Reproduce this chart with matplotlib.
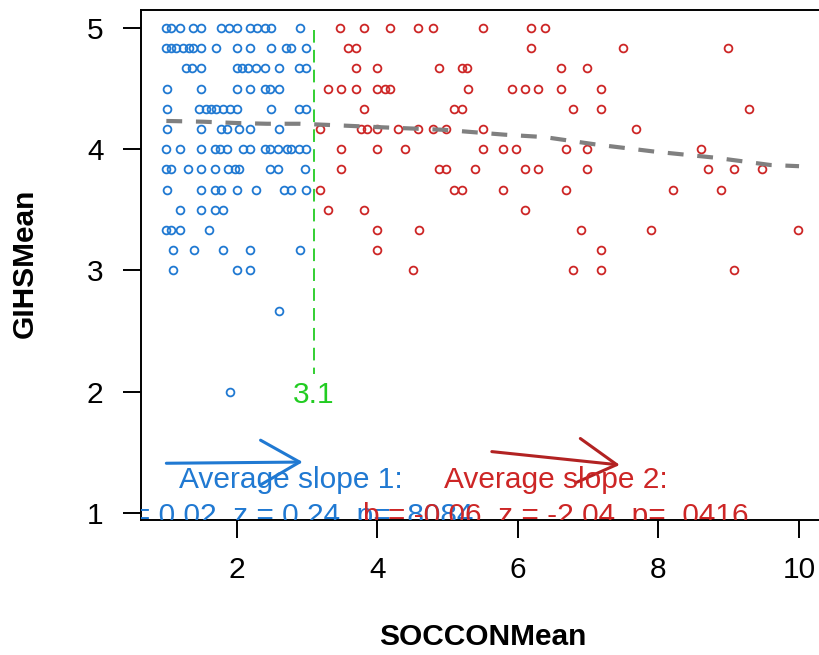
import matplotlib
matplotlib.use('Agg')
import matplotlib.pyplot as plt

plt.rcParams['font.family'] = ['Liberation Sans', 'DejaVu Sans']

# points below the cut (blue), read row by row
blue_x = [0.99, 1.06, 1.19, 1.38, 1.50, 1.78, 1.89, 2.00, 2.19, 2.29, 2.40, 2.49, 2.90,
          0.99, 1.06, 1.14, 1.24, 1.32, 1.38, 1.50, 1.71, 2.00, 2.19, 2.49, 2.70, 2.78, 2.99,
          1.28, 1.36, 1.50, 2.00, 2.07, 2.16, 2.28, 2.41, 2.60, 2.89, 2.99,
          1.01, 1.50, 2.00, 2.19, 2.40, 2.48, 2.60,
          1.01, 1.47, 1.57, 1.64, 1.71, 1.80, 1.90, 2.00, 2.49, 2.89, 2.99,
          1.01, 1.50, 1.78, 1.86, 2.04, 2.19, 2.60,
          0.99, 1.20, 1.50, 1.69, 1.76, 1.86, 2.09, 2.19, 2.40, 2.48, 2.59, 2.71, 2.78, 2.89, 2.99,
          0.99, 1.07, 1.31, 1.50, 1.69, 1.88, 1.97, 2.04, 2.47, 2.59, 2.97,
          1.01, 1.50, 1.69, 1.78, 2.00, 2.28, 2.68, 2.78, 2.99,
          1.20, 1.50, 1.69, 1.80,
          0.99, 1.07, 1.20, 1.61,
          1.09, 1.39, 1.80, 2.19, 2.90,
          1.09, 2.00, 2.19,
          2.60,
          1.90]
blue_y = [5.0] * 13 + [4.833] * 14 + [4.667] * 11 + [4.5] * 7 + [4.333] * 11 + \
         [4.167] * 7 + [4.0] * 15 + [3.833] * 11 + [3.667] * 9 + [3.5] * 4 + \
         [3.333] * 4 + [3.167] * 5 + [3.0] * 3 + [2.667] + [2.0]

# points above the cut (red)
red_x = [3.47, 3.81, 4.18, 4.58, 4.80, 5.50, 6.19, 6.39,
         3.58, 3.70, 6.19, 7.49, 8.99,
         3.70, 3.99, 4.88, 5.20, 5.27, 6.61, 6.99,
         3.30, 3.49, 3.70, 3.99, 4.11, 4.18, 5.29, 5.91, 6.10, 6.29, 6.61, 7.19,
         3.81, 5.09, 5.21, 6.79, 7.19, 9.29,
         3.19, 3.77, 3.85, 3.99, 4.30, 4.58, 4.80, 4.98, 5.50, 7.68,
         3.49, 3.99, 4.40, 5.50, 5.79, 5.98, 6.68, 6.99, 8.60,
         3.49, 4.88, 4.98, 5.39, 6.10, 6.29, 6.99, 8.71, 9.08, 9.48,
         3.19, 5.09, 5.21, 5.79, 6.68, 8.20, 8.89,
         3.30, 3.81, 6.10,
         3.99, 4.59, 6.90, 7.89, 9.99,
         3.99, 7.19,
         4.51, 6.79, 7.19, 9.08]
red_y = [5.0] * 8 + [4.833] * 5 + [4.667] * 7 + [4.5] * 12 + [4.333] * 6 + \
        [4.167] * 10 + [4.0] * 9 + [3.833] * 10 + [3.667] * 7 + [3.5] * 3 + \
        [3.333] * 5 + [3.167] * 2 + [3.0] * 4

# smoothed trend (grey dashed)
smooth_x = [1.0, 1.52, 2.0, 2.43, 2.9, 3.32, 4.1, 4.95, 5.81, 6.38, 7.1, 7.95, 8.81, 9.59, 10.0]
smooth_y = [4.233, 4.227, 4.216, 4.21, 4.21, 4.20, 4.18, 4.16, 4.12, 4.10, 4.04, 3.98, 3.93, 3.87, 3.86]

cut = 3.1
cut_top, cut_bottom = 4.98, 2.15

slope1_label = ['Average slope 1:', 'b = 0.02, z = 0.24, p= .8084']
slope2_label = ['Average slope 2:', 'b = -0.06, z = -2.04, p= .0416']
arrow1 = [(1.0, 1.41), (2.94, 1.42)]
arrow2 = [(5.63, 1.506), (7.45, 1.396)]

blue = '#2079D2'
red = '#CD2626'
green = '#22CC22'
fs = 21.5

fig = plt.figure(figsize=(8.2, 6.55), dpi=100)
ax = fig.add_axes([0.172, 0.2061, 0.8333, 0.7786])

ax.plot(blue_x, blue_y, 'o', ls='none', mfc='none', mec=blue, ms=5.6, mew=1.3)
ax.plot(red_x, red_y, 'o', ls='none', mfc='none', mec=red, ms=5.6, mew=1.3)
ax.plot(smooth_x, smooth_y, color='#808080', lw=3, dashes=(3.8, 3.3))

ax.plot([cut, cut], [cut_top, cut_bottom], color=green, lw=1.3, dashes=(7, 4))
ax.text(cut, 1.907, '3.1', color=green, fontsize=fs, ha='center', va='baseline')

# slope arrows + labels
ax.annotate('', xy=arrow1[1], xytext=arrow1[0],
            arrowprops=dict(arrowstyle='->,head_length=0.7,head_width=0.4', color=blue,
                            lw=2.2, mutation_scale=40, shrinkA=0, shrinkB=0))
ax.annotate('', xy=arrow2[1], xytext=arrow2[0],
            arrowprops=dict(arrowstyle='->,head_length=0.7,head_width=0.4', color='#B22222',
                            lw=2.2, mutation_scale=40, shrinkA=0, shrinkB=0))

ax.text(2.77, 1.21, slope1_label[0], color=blue, fontsize=fs, ha='center', va='baseline', clip_on=True)
ax.text(2.77, 0.905, slope1_label[1], color=blue, fontsize=fs, ha='center', va='baseline', clip_on=True)
ax.text(6.54, 1.21, slope2_label[0], color=red, fontsize=fs, ha='center', va='baseline', clip_on=True)
ax.text(6.54, 0.905, slope2_label[1], color=red, fontsize=fs, ha='center', va='baseline', clip_on=True)

ax.set_xlim(0.64, 10.36)
ax.set_ylim(0.942, 5.148)
ax.set_xticks([2, 4, 6, 8, 10])
ax.set_yticks([1, 2, 3, 4, 5])
ax.tick_params(length=13, width=1.4, labelsize=fs, pad=13)
ax.tick_params(axis='y', pad=14)
for s in ax.spines.values():
    s.set_linewidth(1.4)

fig.text(483 / 820, 1 - 637 / 655, 'SOCCONMean', fontsize=fs, fontweight='bold', ha='center', va='center')
fig.text(25 / 820, 1 - 263 / 655, 'GIHSMean', fontsize=fs, fontweight='bold', rotation=90,
         ha='center', va='center')

fig.savefig('out.png', dpi=100)
